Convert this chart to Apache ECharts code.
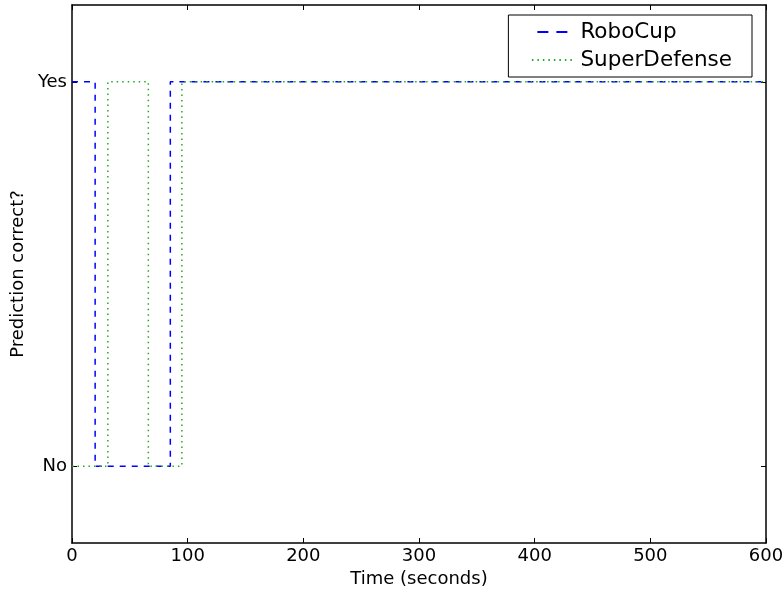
<!DOCTYPE html>
<html>
<head>
<meta charset="utf-8">
<script src="https://cdn.jsdelivr.net/npm/echarts@6/dist/echarts.min.js"></script>
<style>html,body{margin:0;padding:0;background:#fff;}#c{width:782px;height:590px;}</style>
</head>
<body>
<div id="c"></div>
<script>
// Transition times (seconds) and states (1 = Yes, 0 = No)
var roboTimes = [0, 20, 85, 600];
var roboValues = [1, 0, 1, 1];
var superTimes = [0, 31, 66, 95, 600];
var superValues = [0, 1, 0, 1, 1];
var xTicks = [0, 100, 200, 300, 400, 500, 600];
var yTickValues = [0, 1];
var yTickLabels = ['No', 'Yes'];

function zip(a, b) { return a.map(function (v, i) { return [v, b[i]]; }); }

var font = 'DejaVu Sans';
var chart = echarts.init(document.getElementById('c'));
var yFmt = function (v) { var i = yTickValues.indexOf(Math.round(v * 1000) / 1000); return i >= 0 ? yTickLabels[i] : ''; };
var axisLine = { show: true, onZero: false, lineStyle: { color: '#000', width: 1.5 } };
var tick = { show: true, inside: true, length: 5, lineStyle: { color: '#000', width: 1 } };
chart.setOption({
  animation: false,
  textStyle: { fontFamily: font, color: '#000' },
  grid: { left: 72, right: 16, top: 5, bottom: 47, containLabel: false, outerBoundsMode: 'none' },
  legend: {
    right: 30, top: 15,
    orient: 'vertical',
    backgroundColor: '#fff',
    borderColor: '#000', borderWidth: 1, borderRadius: 0,
    padding: [6, 20, 6, 22],
    itemGap: 6, itemWidth: 44, itemHeight: 22,
    itemStyle: { opacity: 0 },
    textStyle: { fontFamily: font, fontSize: 21.5, color: '#000' },
    data: [
      { name: 'RoboCup', lineStyle: { type: [11, 8], dashOffset: -6 } },
      { name: 'SuperDefense', lineStyle: { type: [1.5, 4] } }
    ]
  },
  xAxis: [{
    type: 'value', min: 0, max: 600, interval: 100,
    name: 'Time (seconds)', nameLocation: 'middle', nameGap: 27,
    nameTextStyle: { fontFamily: font, fontSize: 18, color: '#000' },
    axisLine: axisLine,
    axisTick: tick,
    axisLabel: { fontFamily: font, fontSize: 18, color: '#000', margin: 4, customValues: xTicks },
    splitLine: { show: false }
  }, {
    type: 'value', min: 0, max: 600, interval: 100, position: 'top',
    axisLine: axisLine,
    axisTick: tick,
    axisLabel: { show: false }, splitLine: { show: false }
  }],
  yAxis: [{
    type: 'value', min: -0.2, max: 1.2, interval: 0.2,
    name: 'Prediction correct?', nameLocation: 'middle', nameGap: 42,
    nameTextStyle: { fontFamily: font, fontSize: 18, color: '#000' },
    axisLine: axisLine,
    axisTick: Object.assign({}, tick, { customValues: yTickValues }),
    axisLabel: { fontFamily: font, fontSize: 18, color: '#000', margin: 5, customValues: yTickValues, formatter: yFmt },
    splitLine: { show: false }
  }, {
    type: 'value', min: -0.2, max: 1.2, interval: 0.2, position: 'right',
    axisLine: axisLine,
    axisTick: Object.assign({}, tick, { customValues: yTickValues }),
    axisLabel: { show: false }, splitLine: { show: false }
  }],
  series: [{
    name: 'RoboCup', type: 'line', step: 'end', symbol: 'none',
    data: zip(roboTimes, roboValues),
    color: '#0000ff',
    lineStyle: { color: '#0000ff', width: 1.5, type: [6, 6] }
  }, {
    name: 'SuperDefense', type: 'line', step: 'end', symbol: 'none',
    data: zip(superTimes, superValues),
    color: '#008000',
    lineStyle: { color: '#22aa22', width: 1.5, type: [1.5, 4] }
  }]
});
</script>
</body>
</html>
